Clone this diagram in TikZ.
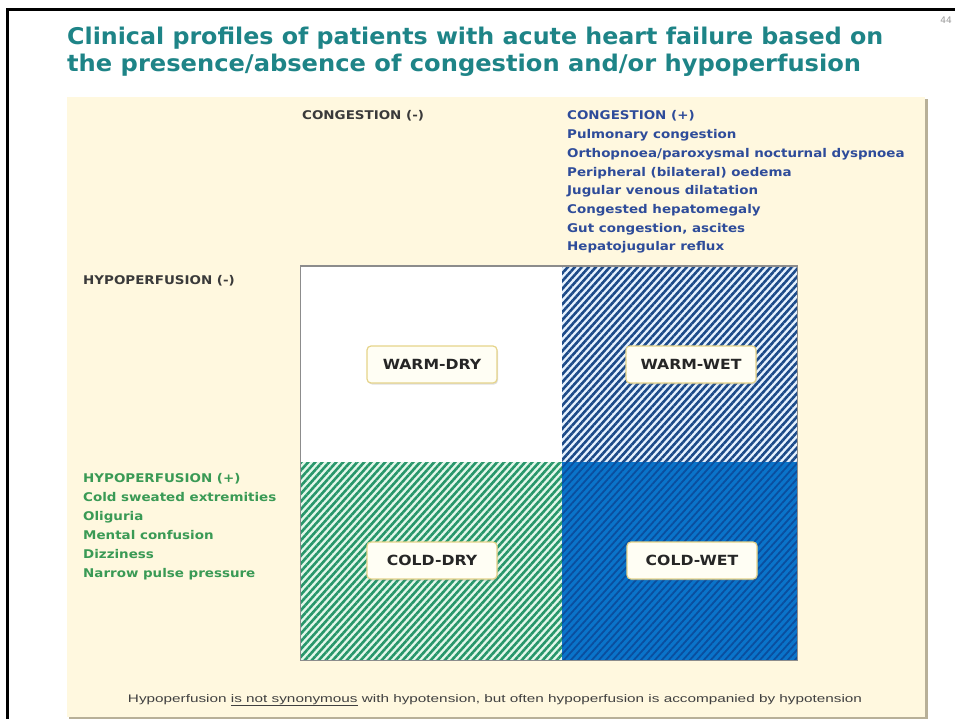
\documentclass[tikz,border=0pt]{standalone}
\usepackage{fontspec}
\setmainfont{DejaVu Sans}
\newfontfamily\notefont{Liberation Sans}
\usetikzlibrary{patterns.meta,shadows}
\definecolor{cream}{HTML}{FFF8DF}
\definecolor{panelshadow}{HTML}{B8B098}
\definecolor{titleteal}{HTML}{1E8487}
\definecolor{congblue}{HTML}{2E4C9A}
\definecolor{hypogreen}{HTML}{3A9A55}
\definecolor{darktxt}{HTML}{3A3A3A}
\definecolor{navystripe}{HTML}{1C4A88}
\definecolor{wetlight}{HTML}{E6F2FF}
\definecolor{greenstripe}{HTML}{27966A}
\definecolor{drylight}{HTML}{E2F7EA}
\definecolor{coldblue}{HTML}{0A74CA}
\definecolor{coldstripe}{HTML}{0A4E9E}
\definecolor{boxedge}{HTML}{E6D48A}
\definecolor{boxfill}{HTML}{FFFEF4}
\newcommand\hstretch[1]{\scalebox{1.12}[1]{#1}}
\begin{document}
\begin{tikzpicture}[x=1pt,y=-1pt,
  bodytext/.style={anchor=base west, inner sep=0pt, font=\bfseries\fontsize{12}{14}\selectfont},
  labbox/.style={draw=boxedge, line width=1.2pt, fill=boxfill, rounded corners=4pt,
    minimum width=130pt, minimum height=37pt, inner sep=0pt,
    font=\bfseries\fontsize{14}{16}\selectfont, text=black!85,
    drop shadow={opacity=0.25, shadow xshift=1pt, shadow yshift=-1.5pt}},
  stripes/.style={pattern={Lines[angle=48,distance=5.2pt,line width=2.6pt]}}
]
\useasboundingbox (0,0) rectangle (955,719);
\fill[white] (0,0) rectangle (955,719);
% frame
\draw[line width=3pt] (7.5,719) -- (7.5,9.5) -- (955,9.5);
% panel
\fill[panelshadow] (69,99) rectangle (928,719);
\fill[cream] (67,97) rectangle (925,716.5);
% page number
\node (pg) [font=\fontsize{9}{10}\selectfont, text=black!40] at (946,20) {44};
% title
\node (t1) [anchor=base west, inner sep=0pt, text=titleteal, font=\bfseries\fontsize{23}{26}\selectfont]
  at (67,45) {\resizebox{816pt}{\height}{Clinical profiles of patients with acute heart failure based on}};
\node (t2) [anchor=base west, inner sep=0pt, text=titleteal, font=\bfseries\fontsize{23}{26}\selectfont]
  at (67,72) {\resizebox{794pt}{\height}{the presence/absence of congestion and/or hypoperfusion}};
% quadrants
\fill[white] (300,266) rectangle (562,462);
\fill[wetlight] (562,266) rectangle (797,462);
\fill[stripes, pattern color=navystripe] (562,266) rectangle (797,462);
\fill[drylight] (300,462) rectangle (562,660);
\fill[stripes, pattern color=greenstripe] (300,462) rectangle (562,660);
\fill[coldblue] (562,462) rectangle (797,660);
\fill[pattern={Lines[angle=48,distance=5.2pt,line width=1.8pt]}, pattern color=coldstripe] (562,462) rectangle (797,660);
\draw[black!45, line width=1pt] (300,266) rectangle (797,660);
% labels
\node[labbox] (wd) at (432,364.5) {\hstretch{WARM-DRY}};
\node[labbox] (ww) at (691,364.5) {\hstretch{WARM-WET}};
\node[labbox] (cd) at (432,560.5) {\hstretch{COLD-DRY}};
\node[labbox] (cw) at (692,560.5) {\hstretch{COLD-WET}};
% headings
\node[bodytext, text=darktxt] (cm) at (302,120) {\hstretch{CONGESTION (-)}};
\node[bodytext, text=darktxt] (hm) at (83,284.5) {\hstretch{HYPOPERFUSION (-)}};
\foreach \t [count=\i from 0] in {CONGESTION (+), Pulmonary congestion,
  Orthopnoea/paroxysmal nocturnal dyspnoea, Peripheral (bilateral) oedema,
  Jugular venous dilatation, Congested hepatomegaly, {Gut congestion, ascites},
  Hepatojugular reflux}
  \node[bodytext, text=congblue] (cp\i) at (567,{120+18.7*\i}) {\hstretch{\t}};
\foreach \t [count=\i from 0] in {HYPOPERFUSION (+), Cold sweated extremities,
  Oliguria, Mental confusion, Dizziness, Narrow pulse pressure}
  \node[bodytext, text=hypogreen] (hp\i) at (83,{482.5+19*\i}) {\hstretch{\t}};
% note
\node (note) [anchor=base, inner sep=0pt, text=black!75, font=\notefont\fontsize{11}{13}\selectfont]
  at (495,702) {\resizebox{734pt}{\height}{Hypoperfusion \underline{is not synonymous} with hypotension, but often hypoperfusion is accompanied by hypotension}};
\end{tikzpicture}
\end{document}
